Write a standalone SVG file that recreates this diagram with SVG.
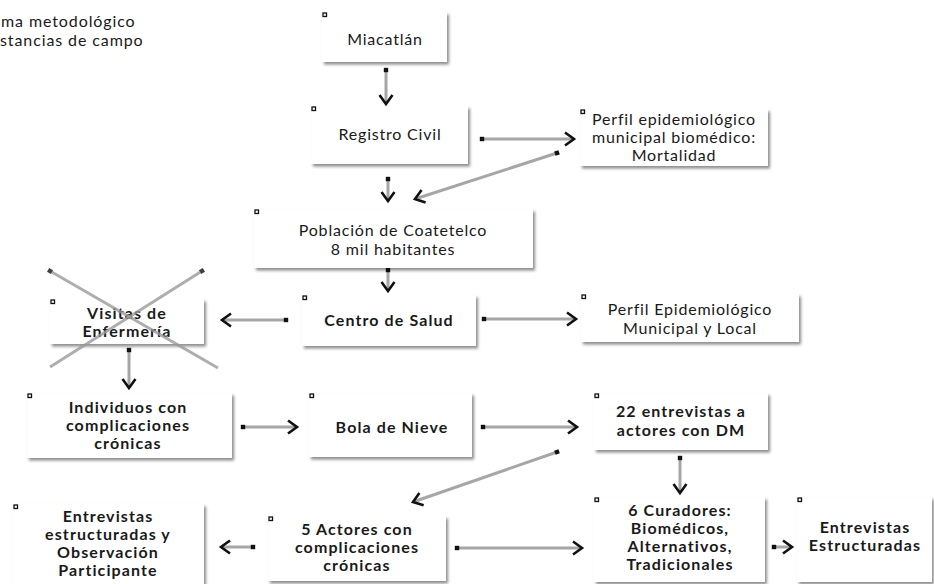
<svg xmlns="http://www.w3.org/2000/svg" width="934" height="584" viewBox="0 0 934 584">
  <defs>
    <filter id="shadow" x="-10%" y="-10%" width="130%" height="140%">
      <feDropShadow dx="2" dy="2.5" stdDeviation="1.5" flood-color="#000" flood-opacity="0.45"/>
    </filter>
    <marker id="head" markerUnits="userSpaceOnUse" markerWidth="20" markerHeight="20" viewBox="-12 -10 16 20" refX="0" refY="0" orient="auto">
      <path d="M-9,-6.5 L0,0 L-9,6.5" fill="none" stroke="#111" stroke-width="2.6" stroke-linejoin="miter"/>
    </marker>
    <marker id="tail" markerUnits="userSpaceOnUse" markerWidth="8" markerHeight="8" viewBox="-4 -4 8 8" refX="0" refY="0" orient="auto">
      <rect x="-2.2" y="-2.2" width="4.4" height="4.4" fill="#111"/>
    </marker>
  </defs>
  <style>
    .box { fill: #fff; filter: url(#shadow); }
    .pin { fill: #fff; stroke: #111; stroke-width: 1.3; }
    .t { font-family: Lato, "Open Sans", sans-serif; font-size: 16px; letter-spacing: 0.8px; fill: #1a1a1a; text-anchor: middle; }
    .b { font-weight: bold; letter-spacing: 1.1px; }
    .title { font-family: Lato, "Open Sans", sans-serif; font-size: 16px; letter-spacing: 0.9px; fill: #1a1a1a; }
    .conn { fill: none; stroke: #a6a6a6; stroke-width: 3; marker-start: url(#tail); marker-end: url(#head); }
    .cross { fill: none; stroke: #9a9a9a; stroke-width: 3; opacity: 0.8; marker-start: url(#tail); }
  </style>

  <!-- heading -->
  <text class="title" x="1" y="27">ma metodológico</text>
  <text class="title" x="0" y="46">stancias de campo</text>

  <g id="connectors">
    <path class="conn" d="M386,70 L386,104"/>
    <path class="conn" d="M482,139 L574,139"/>
    <path class="conn" d="M557,153 L415,199"/>
    <path class="conn" d="M388,179 L388,201"/>
    <path class="conn" d="M388,270 L388,291"/>
    <path class="conn" d="M286,320 L222,320"/>
    <path class="conn" d="M484,319 L576,319"/>
    <path class="conn" d="M129,350 L129,388"/>
    <path class="conn" d="M243,427 L297,427"/>
    <path class="conn" d="M483,427 L577,427"/>
    <path class="conn" d="M557,452 L413,502"/>
    <path class="conn" d="M680,458 L680,493"/>
    <path class="conn" d="M457,548 L582,548"/>
    <path class="conn" d="M774,547 L792,547"/>
    <path class="conn" d="M253,547 L221,547"/>
  </g>

  <g id="n-miacatlan">
    <rect class="box" x="322" y="12" width="125" height="50"/>
    <rect class="pin" x="323" y="13" width="3.5" height="3.5"/>
    <text class="t" x="385" y="45">Miacatlán</text>
  </g>

  <g id="n-registro">
    <rect class="box" x="311" y="106" width="157" height="58"/>
    <rect class="pin" x="312" y="107" width="3.5" height="3.5"/>
    <text class="t" x="390" y="140">Registro Civil</text>
  </g>

  <g id="n-perfil-bio">
    <rect class="box" x="580" y="109" width="188" height="57"/>
    <rect class="pin" x="581" y="110" width="3.5" height="3.5"/>
    <text class="t" x="674" y="125">Perfil epidemiológico</text>
    <text class="t" x="674" y="143">municipal biomédico:</text>
    <text class="t" x="674" y="161">Mortalidad</text>
  </g>

  <g id="n-poblacion">
    <rect class="box" x="254" y="209" width="279" height="59"/>
    <rect class="pin" x="255" y="210" width="3.5" height="3.5"/>
    <text class="t" x="393" y="236">Población de Coatetelco</text>
    <text class="t" x="393" y="255">8 mil habitantes</text>
  </g>

  <g id="n-centro">
    <rect class="box" x="302" y="295" width="174" height="51"/>
    <rect class="pin" x="303" y="296" width="3.5" height="3.5"/>
    <text class="t b" x="389" y="326">Centro de Salud</text>
  </g>

  <g id="n-visitas">
    <rect class="box" x="50" y="299" width="154" height="45"/>
    <rect class="pin" x="51" y="300" width="3.5" height="3.5"/>
    <text class="t b" x="127" y="319">Visitas de</text>
    <text class="t b" x="127" y="337">Enfermería</text>
  </g>

  <!-- cancelled: cross over the nursing-visit node -->
  <g id="cross">
    <path class="cross" d="M50,271 L218,368"/>
    <path class="cross" d="M202,271 L50,367"/>
  </g>

  <g id="n-perfil-local">
    <rect class="box" x="581" y="294" width="218" height="48"/>
    <rect class="pin" x="582" y="295" width="3.5" height="3.5"/>
    <text class="t" x="690" y="315">Perfil Epidemiológico</text>
    <text class="t" x="690" y="334">Municipal y Local</text>
  </g>

  <g id="n-individuos">
    <rect class="box" x="27" y="393" width="205" height="65"/>
    <rect class="pin" x="28" y="394" width="3.5" height="3.5"/>
    <text class="t b" x="128" y="413">Individuos con</text>
    <text class="t b" x="128" y="431">complicaciones</text>
    <text class="t b" x="128" y="449">crónicas</text>
  </g>

  <g id="n-bola">
    <rect class="box" x="309" y="393" width="163" height="64"/>
    <rect class="pin" x="310" y="394" width="3.5" height="3.5"/>
    <text class="t b" x="392" y="433">Bola de Nieve</text>
  </g>

  <g id="n-22">
    <rect class="box" x="594" y="393" width="174" height="57"/>
    <rect class="pin" x="595" y="394" width="3.5" height="3.5"/>
    <text class="t b" x="681" y="417">22 entrevistas a</text>
    <text class="t b" x="681" y="436">actores con DM</text>
  </g>

  <g id="n-curadores">
    <rect class="box" x="594" y="497" width="171" height="85"/>
    <rect class="pin" x="595" y="498" width="3.5" height="3.5"/>
    <text class="t b" x="680" y="516">6 Curadores:</text>
    <text class="t b" x="680" y="534">Biomédicos,</text>
    <text class="t b" x="680" y="552">Alternativos,</text>
    <text class="t b" x="680" y="570">Tradicionales</text>
  </g>

  <g id="n-estructuradas">
    <rect class="box" x="797" y="497" width="135" height="85"/>
    <rect class="pin" x="798" y="498" width="3.5" height="3.5"/>
    <text class="t b" x="865" y="533">Entrevistas</text>
    <text class="t b" x="865" y="551">Estructuradas</text>
  </g>

  <g id="n-observacion">
    <rect class="box" x="13" y="504" width="191" height="80"/>
    <rect class="pin" x="14" y="505" width="3.5" height="3.5"/>
    <text class="t b" x="108" y="522">Entrevistas</text>
    <text class="t b" x="108" y="540">estructuradas y</text>
    <text class="t b" x="108" y="558">Observación</text>
    <text class="t b" x="108" y="576">Participante</text>
  </g>

  <g id="n-actores">
    <rect class="box" x="268" y="516" width="178" height="65"/>
    <rect class="pin" x="269" y="517" width="3.5" height="3.5"/>
    <text class="t b" x="357" y="535">5 Actores con</text>
    <text class="t b" x="357" y="553">complicaciones</text>
    <text class="t b" x="357" y="571">crónicas</text>
  </g>
</svg>
